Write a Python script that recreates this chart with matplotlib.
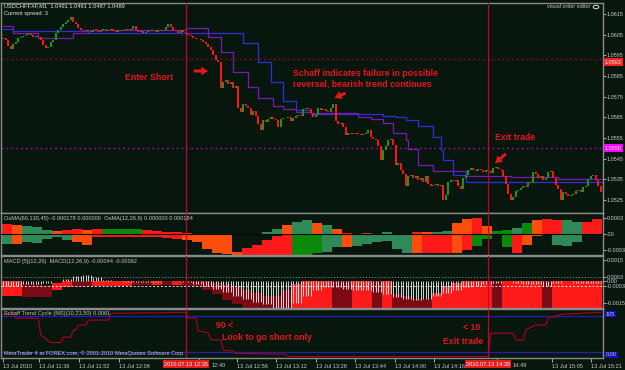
import numpy as np
import matplotlib
matplotlib.use("Agg")
import matplotlib.pyplot as plt
from matplotlib.patches import FancyArrowPatch, Circle

# ---------------- data ----------------
first_open = 1.06029
closes = [
    1.06034, 1.06024, 1.05995, 1.05981, 1.06005, 1.06015, 1.06034, 1.06039, 1.06044, 1.06048,
    1.06058, 1.06048, 1.06039, 1.06044, 1.06039, 1.06024, 1.06000, 1.05985, 1.05990, 1.06015,
    1.06024, 1.06058, 1.06073, 1.06087, 1.06102, 1.06111, 1.06121, 1.06135, 1.06111, 1.06102,
    1.06082, 1.06073, 1.06068, 1.06073, 1.06068, 1.06063, 1.06073, 1.06073, 1.06063, 1.06073,
    1.06077, 1.06068, 1.06073, 1.06077, 1.06068, 1.06063, 1.06073, 1.06068, 1.06073, 1.06077,
    1.06073, 1.06077, 1.06092, 1.06073, 1.06063, 1.06068, 1.06058, 1.06063, 1.06068, 1.06073,
    1.06068, 1.06063, 1.06073, 1.06068, 1.06073, 1.06087, 1.06102, 1.06087, 1.06073, 1.06068,
    1.06058, 1.06073, 1.06063, 1.06058, 1.06048, 1.06044, 1.06034, 1.06029, 1.06029, 1.06024,
    1.06015, 1.06005, 1.05990, 1.05976, 1.05952, 1.05927, 1.05918, 1.05792, 1.05821, 1.05831,
    1.05811, 1.05821, 1.05792, 1.05802, 1.05695, 1.05676, 1.05715, 1.05705, 1.05695, 1.05661,
    1.05681, 1.05657, 1.05618, 1.05589, 1.05637, 1.05627, 1.05642, 1.05652, 1.05642, 1.05637,
    1.05603, 1.05642, 1.05647, 1.05647, 1.05652, 1.05632, 1.05647, 1.05657, 1.05661, 1.05657,
    1.05690, 1.05695, 1.05690, 1.05671, 1.05652, 1.05661, 1.05695, 1.05685, 1.05690, 1.05681,
    1.05676, 1.05695, 1.05715, 1.05632, 1.05618, 1.05623, 1.05603, 1.05565, 1.05574, 1.05570,
    1.05574, 1.05570, 1.05570, 1.05565, 1.05570, 1.05574, 1.05589, 1.05555, 1.05545, 1.05540,
    1.05511, 1.05444, 1.05492, 1.05511, 1.05540, 1.05545, 1.05516, 1.05420, 1.05429, 1.05395,
    1.05376, 1.05318, 1.05366, 1.05371, 1.05357, 1.05366, 1.05347, 1.05357, 1.05337, 1.05366,
    1.05327, 1.05318, 1.05323, 1.05327, 1.05318, 1.05323, 1.05250, 1.05274, 1.05337, 1.05347,
    1.05342, 1.05347, 1.05318, 1.05303, 1.05357, 1.05371, 1.05395, 1.05405, 1.05395, 1.05390,
    1.05400, 1.05395, 1.05386, 1.05395, 1.05390, 1.05381, 1.05405, 1.05410, 1.05400, 1.05395,
    1.05366, 1.05327, 1.05279, 1.05250, 1.05265, 1.05294, 1.05298, 1.05308, 1.05318, 1.05313,
    1.05337, 1.05332, 1.05386, 1.05376, 1.05357, 1.05366, 1.05347, 1.05357, 1.05386, 1.05390,
    1.05357, 1.05323, 1.05303, 1.05250, 1.05289, 1.05279, 1.05269, 1.05274, 1.05279, 1.05294,
    1.05298, 1.05289, 1.05313, 1.05318, 1.05352, 1.05366, 1.05371, 1.05347, 1.05318, 1.05289,
]

blue_start = [0, 4, 34, 96, 102, 107, 112, 117, 123, 152, 157, 161, 166, 172, 175, 176, 180, 185]
blue_val = [1.06077, 1.06068, 1.06058, 1.06010, 1.05918, 1.05821, 1.05729, 1.05685, 1.05666,
            1.05656, 1.05652, 1.05637, 1.05608, 1.05555, 1.05492, 1.05444, 1.05371, 1.05339]
purple_start = [0, 4, 14, 28, 34, 73, 82, 87, 92, 98, 102, 108, 112, 117, 123, 142, 147, 152,
                156, 161, 162, 166, 172, 185, 203, 222]
purple_val = [1.06092, 1.06058, 1.06034, 1.06058, 1.06073, 1.06082, 1.06039, 1.05966, 1.05869,
              1.05797, 1.05744, 1.05705, 1.05690, 1.05676, 1.05671, 1.05652, 1.05642, 1.05623,
              1.05574, 1.05540, 1.05497, 1.05420, 1.05392, 1.05366, 1.05360, 1.05350]

level_red = 1.0593
level_magenta = 1.0550
price_ticks = [1.0525, 1.0535, 1.0545, 1.0555, 1.0565, 1.0575, 1.0585, 1.0595, 1.0605, 1.0615]

# OsMA (values in 1e-4), one value per 4-bar group
osma_up = [1.9, 1.7, 1.5, 1.3, 0.8, 0.5, 0.7, 0.9, 0.8, 0.9, 1.0, 1.0, 0.9, 0.9, 0.7, 0.5, 0.4, 0.3, 0.2, 0.0,
           0.0, 0.0, 0.0, 0.0, 0.0, 0.0, 0.4, 0.9, 1.6, 2.3, 2.6, 2.0, 1.7, 1.0, 0.1, 0.0, 0.1, 0.0, 0.3, 0.0,
           0.0, 0.3, 0.4, 0.4, 0.6, 2.0, 2.8, 3.0, 1.5, 0.5, 0.8, 1.2, 2.0, 2.7, 2.8, 2.6, 2.7, 2.2, 2.3, 2.8]
osma_up_col = list("rogggorrorddddrrrrrrrrrrrrggoggogorrrgggoroggooroddgdorrggr")
osma_dn_top = [0.0] * 23 + [-3.4, -2.7, -2.0, -1.2, -0.4] + [0.0] * 32
osma_dn_bot = [-1.8, -1.8, -1.5, -1.7, -1.0, -0.6, -1.1, -1.5, -2.1, -0.6, -0.6, -0.6, -0.6, -0.5, -0.5,
               -0.6, -0.8, -1.0, -1.2, -1.5, -2.8, -3.6, -3.7, -3.9, -3.9, -3.9, -3.9, -3.9, -3.9, -3.9,
               -3.9, -3.6, -3.4, -2.5, -2.4, -2.2, -1.9, -1.5, -1.4, -2.8, -3.6, -3.6, -3.6, -3.6, -3.6,
               -3.5, -3.0, -2.2, -1.0, -0.1, -2.5, -3.5, -2.0, -0.3, -0.2, -2.0, -2.3, -1.5, -0.2, -0.1]
osma_dn_col = list("gogggggoorrrrrrrrroooooorrrrrdddggoggggggorrrorddddrooggggooggg")[:60]

# MACD (values in 1e-4), one value per 4-bar group
macd_top = [0, 0, -2, -2, -3, -1, 0, 0, 0, 0, 0, 0, 0, 0, 0, 0, 0, 0, 0, 0,
            0, -1, -2, -4, -6, -8, -10, -10, -6, -2, 0, 0, 0, 0, 0, 0, 0, 0, 0, -9,
            -10, -12, -12, -8, -3, -1, 0, 0, 0, 0, 0, 0, 0, 0, 0, 0, 0, 0, 0, 0]
macd_bot = [-10, -10, -11, -11, -11, -6, -4, -4, -3.5, -3, -3, -3, -3, -2.5, -2.5, -2.5, -2.5, -2.5, -3, -4,
            -6, -9, -13, -16] + [-19] * 36
macd_col = list("rrmmmrrmmrrrrmmrmrmmmmmmmmmmmrrrrmmrrmrmmmmrrrrrrmrrrrmrrrr")
macd_white = [-3, -3, -2, -2, -1, 0, 2, 4, 4.5, 3, 1, 0.5, -0.5, -0.5, -0.5, -0.5, 0.5, 0.3, -0.5, -2,
              -3, -5, -7, -10, -12, -14, -16, -19, -19, -15, -10, -6, -4, -4, -5, -6, -6, -7, -9, -11,
              -12, -13, -12, -10, -8, -6, -4, -3, -2, -1, 0.5, -1, -2, -2, -3, -1, 0.5, -1, -1, -1]

# Schaff Trend Cycle (bar, value)
stc_bar = [0, 4, 5, 14, 15, 19, 23, 24, 27, 28, 29, 30, 33, 34, 42, 43, 72, 73, 74, 77, 78, 82, 83, 87,
           88, 92, 93, 113, 114, 194, 195, 204, 205, 208, 209, 213, 217, 218, 222, 224, 234, 239]
stc_val = [94, 94, 85, 85, 48, 31, 31, 43, 43, 59, 59, 70, 70, 81, 81, 96, 98, 98, 85, 85, 57, 52, 37, 37,
           14, 12, 7, 5, 0, 0, 52, 52, 37, 37, 59, 70, 70, 85, 92, 94, 97, 98]

entry_bar = 73
exit_bar = 194
time_tick_bars = [0, 14.4, 30.4, 46.4, 78.4, 93.4, 109.2, 125.2, 140.7, 156.7, 172.3, 197.5, 219.4, 235.1]
time_tick_labels = ["13 Jul 2010", "13 Jul 11:36", "13 Jul 11:52", "13 Jul 12:08", "",
                    "13 Jul 12:56", "13 Jul 13:12", "13 Jul 13:28", "13 Jul 13:44", "13 Jul 14:00",
                    "13 Jul 14:16", "", "13 Jul 15:05", "13 Jul 15:21"]
partial_labels = ["12:40", "14:49"]      # visible remainder of labels partly hidden by event boxes
partial_label_bars = [83.2, 203.8]
entry_label = "2010.07.13 12:35"
exit_label = "2010.07.13 14:35"

# ---------------- style ----------------
W, H = 625, 370
BG = "#08170d"
FRAME = "#8a8a8a"
TXT = "#c8c8c8"
UP = "#1b961b"
DN = "#ff1414"
VLINE = "#c8002d"
ANN = "#e8141e"
SF = "Liberation Sans"
FS = 4.1
FSY = 3.95
COLS = {"r": "#ff1a1a", "o": "#ff4d0d", "g": "#2e8b57", "d": "#0a8a0a", "m": "#7a0a14"}

fig = plt.figure(figsize=(W / 100, H / 100), dpi=100)
fig.patch.set_facecolor(BG)


def fx(x):
    return x / W


def fy(y):
    return 1 - y / H


def panel(y0, y1):
    ax = fig.add_axes([fx(1.5), fy(y1), 601 / W, (y1 - y0) / H])
    ax.set_facecolor(BG)
    for s in ax.spines.values():
        s.set_color(FRAME)
        s.set_linewidth(1.0)
    ax.set_xlim(-0.7, 239.7)
    ax.tick_params(axis="x", bottom=False, labelbottom=False)
    ax.yaxis.tick_right()
    ax.tick_params(axis="y", colors=TXT, labelsize=FSY, length=2, width=0.6, pad=1.0)
    return ax


def style_ticklabels(a):
    for t in a.get_yticklabels() + a.get_xticklabels():
        t.set_fontfamily(SF)


# ---------------- main panel ----------------
ax = panel(2.5, 212.5)
ax.set_ylim(1.051897, 1.062056)
opens = [first_open] + closes[:-1]
xs = np.arange(len(closes))
o = np.array(opens)
c = np.array(closes)
bottoms = np.minimum(o, c)
heights = np.maximum(np.abs(c - o), 0.00002)
cols = [UP if cc > oo else DN for oo, cc in zip(o, c)]
ax.bar(xs, heights, bottom=bottoms, width=0.8, color=cols, linewidth=0, zorder=3)

bx = blue_start + [240]
ax.plot(bx, blue_val + [blue_val[-1]], drawstyle="steps-post", color="#2f2fd8", lw=0.9, zorder=2)
px_ = purple_start + [240]
ax.plot(px_, purple_val + [purple_val[-1]], drawstyle="steps-post", color="#7a18b4", lw=0.9, zorder=2)

ax.axhline(level_red, color="#8a0a1a", lw=1.0, ls=(0, (1.5, 2)), zorder=1)
ax.axhline(level_magenta, color="#8a108a", lw=1.0, ls=(0, (1.5, 2)), zorder=1)
ax.set_yticks(price_ticks)
ax.set_yticklabels([f"{v:.4f}" for v in price_ticks])
style_ticklabels(ax)

# ---------------- OsMA panel ----------------
ax2 = panel(212.5, 255)
ax2.set_ylim(-0.000394, 0.000403)
gx = np.arange(60) * 4 + 1.5
up = np.array(osma_up) * 1e-4
ax2.bar(gx, up, width=4, color=[COLS[k] for k in osma_up_col], linewidth=0)
dt = np.array(osma_dn_top) * 1e-4
db = np.array(osma_dn_bot) * 1e-4
ax2.bar(gx, db - dt, bottom=dt, width=4, color=[COLS[k] for k in osma_dn_col], linewidth=0)
ax2.axhline(0, color="#050805", lw=0.8, zorder=4)
ax2.set_yticks([0.0003, 0.0, -0.0003])
ax2.set_yticklabels(["0.0003", ".00", "-0.0003"])
style_ticklabels(ax2)

# ---------------- MACD panel ----------------
ax3 = panel(256, 307.5)
ax3.set_ylim(-0.001814, 0.001779)
mt = np.array(macd_top) * 1e-4
mb = np.array(macd_bot) * 1e-4
ax3.bar(gx, mb - mt, bottom=mt, width=4, color=[COLS[k] for k in macd_col], linewidth=0)
wv = np.repeat(np.array(macd_white) * 1e-4, 4)
ax3.vlines(np.arange(240), 0, wv, color="#f4f4f4", lw=0.6, zorder=3)
ax3.axhline(0.0003, color="#9a9a9a", lw=0.7, ls=(0, (1, 2)))
ax3.axhline(-0.0003, color="#e0e0e0", lw=0.7, ls=(0, (2, 2)), zorder=4)
ax3.set_yticks([0.0015, 0.0003, 0.0, -0.0003, -0.0015])
ax3.set_yticklabels(["0.0015", "0.0003", "0.00", "-0.0003", "-0.0015"])
style_ticklabels(ax3)

# ---------------- Schaff panel ----------------
ax4 = panel(308.5, 358)
ax4.set_ylim(-3.3, 106.7)
ax4.axhline(90, color="#2020b8", lw=0.9)
ax4.axhline(10, color="#2020b8", lw=0.9)
ax4.plot(stc_bar, stc_val, color="#a0001e", lw=0.9)
ax4.set_yticks([])
ax4.tick_params(axis="x", bottom=True, labelbottom=True, colors=TXT, labelsize=FS,
                length=3, width=0.6, pad=1.5, direction="out")
ax4.set_xticks(time_tick_bars)
ax4.set_xticklabels(time_tick_labels, ha="left")
style_ticklabels(ax4)
for lab, b in zip(partial_labels, partial_label_bars):
    ax4.text(b, -0.145, lab, transform=ax4.get_xaxis_transform(), color=TXT, fontsize=FS,
             family=SF, ha="left", va="center", clip_on=False)

# vertical event lines across all panels
for a in (ax, ax2, ax3, ax4):
    a.axvline(entry_bar, color=VLINE, lw=0.9, zorder=5)
    a.axvline(exit_bar, color=VLINE, lw=0.9, zorder=5)

# ---------------- texts ----------------
T = dict(color="#e8e8e8", fontsize=FS, va="center", family=SF)
fig.text(fx(4), fy(6), "USDCHFFXF,M1  1.0491 1.0491 1.0487 1.0489", **T)
fig.text(fx(4), fy(13), "Current spread: 3", **T)
fig.text(fx(590), fy(7), "visual order editor", color=TXT, fontsize=FS - 0.2, va="center", ha="right",
         family=SF)
fig.patches.append(Circle((fx(596), fy(7)), 2.8 / W, transform=fig.transFigure,
                          fill=False, ec=TXT, lw=0.8))

T2 = dict(color=TXT, fontsize=FS, va="center", family=SF)
fig.text(fx(4), fy(219), "OsMA(60,130,45) -0.000178 0.000000  OsMA(12,26,9) 0.000000 0.000184", **T2)
fig.text(fx(4), fy(262), "MACD [5](12,26)  MACD(12,26,9) -0.00044 -0.00062", **T2)
fig.text(fx(4), fy(314), "Schaff Trend Cycle (MS)(10,23,50) 0.0061", **T2)
fig.text(fx(4), fy(353), "MetaTrader 4 at FOREX.com, \u00a9 2001-2010 MetaQuotes Software Corp.", **T2)

# right-side price boxes
fig.text(fx(613.5), fy(62), "1.0593", color="white", fontsize=FSY, ha="center", va="center",
         family=SF, bbox=dict(fc="#ff2020", ec="none", pad=0.8))
fig.text(fx(613.5), fy(148), "1.0550", color="white", fontsize=FSY, ha="center", va="center",
         family=SF, bbox=dict(fc="#ff00ff", ec="none", pad=0.8))
fig.text(fx(606), fy(314), "105", color=TXT, fontsize=FSY, va="center", family=SF,
         bbox=dict(fc="#1010c0", ec="none", pad=0.5))
fig.text(fx(606), fy(355), "0.00", color=TXT, fontsize=FSY, va="center", family=SF,
         bbox=dict(fc="#1010c0", ec="none", pad=0.5))

# time axis event boxes
fig.text(fx(186), fy(364), entry_label, color="white", fontsize=FS, ha="center", va="center",
         family=SF, bbox=dict(fc="#e81c1c", ec="none", pad=0.8), zorder=10)
fig.text(fx(488), fy(364), exit_label, color="white", fontsize=FS, ha="center", va="center",
         family=SF, bbox=dict(fc="#e81c1c", ec="none", pad=0.8), zorder=10)

# annotations
AF = dict(color=ANN, fontsize=6.3, family="Liberation Sans", fontweight="bold", va="center")
fig.text(fx(125), fy(78), "Enter Short", **AF)
fig.text(fx(293), fy(74), "Schaff indicates failure in possible", **AF)
fig.text(fx(293), fy(84), "reversal, bearish trend continues", **AF)
fig.text(fx(495), fy(138), "Exit trade", **AF)
fig.text(fx(216), fy(326), "90 <", **AF)
fig.text(fx(222), fy(337), "Look to go short only", **AF)
fig.text(fx(463), fy(327), "< 10", **AF)
fig.text(fx(443), fy(341), "Exit trade", **AF)


def arrow(x0, y0, x1, y1):
    a = FancyArrowPatch((fx(x0), fy(y0)), (fx(x1), fy(y1)), transform=fig.transFigure,
                        arrowstyle="simple,head_length=5,head_width=6,tail_width=2.2",
                        color=ANN, mutation_scale=1, lw=0)
    fig.patches.append(a)


arrow(191, 71, 211, 71)
arrow(348, 92, 332, 99)
arrow(508, 152, 493, 165)

fig.savefig("out.png", dpi=100, facecolor=BG)
